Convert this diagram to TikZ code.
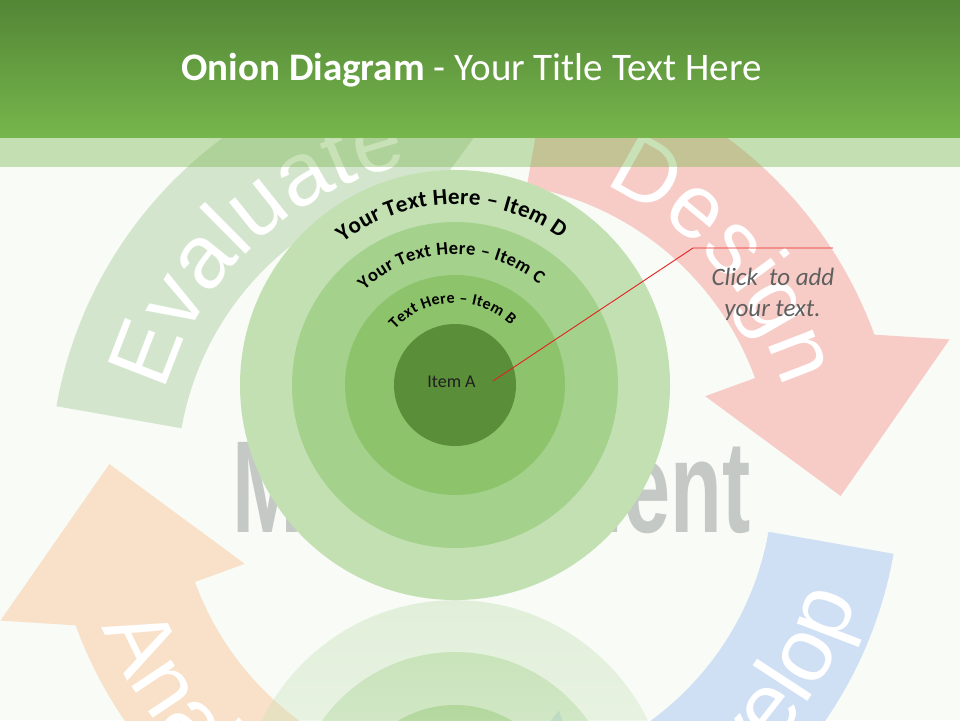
\documentclass[tikz,border=0pt]{standalone}
\usepackage{fontspec}
\setmainfont{Carlito}
\newfontfamily\bandfamily{Liberation Sans}
\newfontfamily\mgmtfamily{Liberation Sans}
\usepackage{graphicx}
\usetikzlibrary{decorations.text,fadings}
\definecolor{bgc}{RGB}{248,251,246}
\definecolor{hdrTop}{RGB}{84,134,54}
\definecolor{hdrBot}{RGB}{118,182,76}
\definecolor{evalC}{RGB}{212,229,205}
\definecolor{desC}{RGB}{247,204,199}
\definecolor{devC}{RGB}{207,224,244}
\definecolor{anaC}{RGB}{248,225,200}
\definecolor{ringD}{RGB}{195,224,179}
\definecolor{ringC}{RGB}{164,209,140}
\definecolor{ringB}{RGB}{141,196,107}
\definecolor{ringA}{RGB}{91,142,56}
\definecolor{mgmtC}{RGB}{197,201,197}
\definecolor{clickC}{RGB}{95,95,95}
\definecolor{leadC}{RGB}{228,32,32}
\tikzfading[name=reflfade, top color=transparent!58, middle color=transparent!92, bottom color=transparent!100]
\newcommand\cycarrow[2]{%
  \fill[#2] (#1:425) arc[start angle=#1, end angle={#1+60}, radius=425]
    -- ({#1+63.5}:495) -- ({#1+82.5}:366) -- ({#1+60}:245) -- ({#1+60}:298)
    arc[start angle={#1+60}, end angle=#1, radius=298] -- cycle;}
\newcommand\bandtext{\bandfamily\fontsize{90}{90}\selectfont\color{white}}
\newcommand\onionD{\bfseries\fontsize{23}{23}\selectfont}
\newcommand\onionC{\bfseries\fontsize{18.5}{18.5}\selectfont}
\newcommand\onionB{\bfseries\fontsize{16}{16}\selectfont}
\tikzset{
  bandlabel/.style={decorate, decoration={text along path, text align=center, text={#1}}},
  ringlabel/.style={decorate, decoration={text along path, text align=fit to path, text={#1}}},
  leader/.style={draw=leadC, line width=0.9pt},
}
\begin{document}
\begin{tikzpicture}[x=1pt,y=-1pt]
\useasboundingbox (0,0) rectangle (960,720);
\clip (0,0) rectangle (960,720);
\fill[bgc] (0,0) rectangle (960,720);
% cycle arrows
\begin{scope}[shift={(475,480)}]
  \cycarrow{190}{evalC}
  \cycarrow{280}{desC}
  \cycarrow{10}{devC}
  \cycarrow{100}{anaC}
  \path[bandlabel={|\bandtext|Evaluate}] (190:322) arc[start angle=190, end angle=264, radius=322];
  \path[bandlabel={|\bandtext|Design}] (280:322) arc[start angle=280, end angle=357, radius=322];
  \path[bandlabel={|\bandtext|Develop}] (75:400) arc[start angle=75, end angle=7, radius=400];
  \path[bandlabel={|\bandtext|Analyze}] (165:400) arc[start angle=165, end angle=106, radius=400];
\end{scope}
% background word
\node[anchor=base west, inner sep=0, text=mgmtC, font=\mgmtfamily\bfseries\fontsize{131}{131}\selectfont] (mgmt) at (232,532) {\scalebox{0.647}[1]{Management}};
% header
\shade[top color=hdrTop, bottom color=hdrBot] (0,0) rectangle (960,137);
\fill[hdrBot, opacity=0.4] (0,137) rectangle (960,167);
\node[anchor=base, inner sep=0, text=white, font=\fontsize{39}{39}\selectfont] (title) at (471.5,80) {\textbf{Onion Diagram} - Your Title Text Here};
% reflection
\fill[ringD, path fading=reflfade] (455,815) circle[radius=215];
\fill[ringC, path fading=reflfade] (455,815) circle[radius=163];
\fill[ringB, path fading=reflfade] (455,815) circle[radius=110];
\fill[ringA, path fading=reflfade] (455,815) circle[radius=61];
% onion
\coordinate (oc) at (455,385);
\fill[ringD] (oc) circle[radius=215];
\fill[ringC] (oc) circle[radius=163];
\fill[ringB] (oc) circle[radius=110];
\fill[ringA] (oc) circle[radius=61];
\begin{scope}[shift={(455,385)}]
  \path[ringlabel={|\onionD|Your Text Here – Item D}] (231.7:181) arc[start angle=231.7, end angle=305.8, radius=181];
  \path[ringlabel={|\onionC|Your Text Here – Item C}] (226.2:131) arc[start angle=226.2, end angle=309.8, radius=131];
  \path[ringlabel={|\onionB|Text Here – Item B}] (223:82) arc[start angle=223, end angle=313, radius=82];
\end{scope}
\node[anchor=base, inner sep=0, text=black!88, font=\fontsize{18}{18}\selectfont] (itemA) at (451.5,387) {Item A};
% leader and callout
\coordinate (la) at (493,381);
\coordinate (lb) at (693,248);
\coordinate (lc) at (833,248);
\draw[leader] (la) -- (lb) -- (lc);
\node[anchor=base, inner sep=0, text=clickC, font=\itshape\fontsize{25}{25}\selectfont] (click1) at (773,285) {Click~~to add};
\node[anchor=base, inner sep=0, text=clickC, font=\itshape\fontsize{25}{25}\selectfont] (click2) at (772.5,316) {your text.};
\end{tikzpicture}
\end{document}
